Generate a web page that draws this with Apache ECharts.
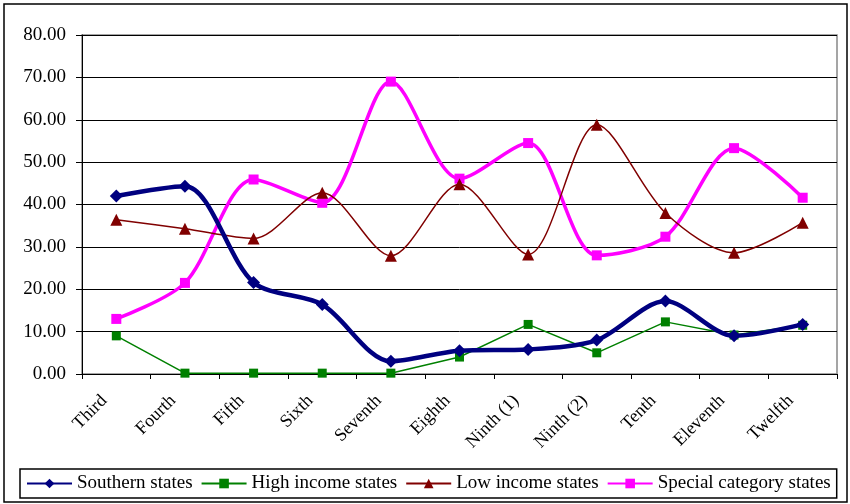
<!DOCTYPE html>
<html><head><meta charset="utf-8">
<script src="https://cdn.jsdelivr.net/npm/echarts@6/dist/echarts.min.js"></script>
<style>html,body{margin:0;padding:0;background:#fff}#c{width:850px;height:504px}</style>
</head><body><div id="c"></div>
<script>
const categories = ["Third","Fourth","Fifth","Sixth","Seventh","Eighth","Ninth (1)","Ninth (2)","Tenth","Eleventh","Twelfth"];
const southern = [42.0, 44.3, 21.6, 16.4, 3.0, 5.5, 5.8, 8.0, 17.2, 9.0, 11.7];
const highIncome = [9.0, 0.2, 0.2, 0.2, 0.2, 4.0, 11.7, 5.0, 12.3, 9.2, 11.5];
const lowIncome = [36.4, 34.3, 32.0, 42.8, 27.9, 44.8, 28.2, 58.8, 38.0, 28.6, 35.7];
const special = [13.0, 21.5, 45.9, 40.4, 69.0, 46.1, 54.5, 28.0, 32.4, 53.3, 41.6];
const yTicks = [0, 10, 20, 30, 40, 50, 60, 70, 80];

const font = "'Liberation Serif','DejaVu Serif',serif";
const chart = echarts.init(document.getElementById('c'));
chart.setOption({
  animation: false,
  backgroundColor: '#fff',
  graphic: [{type:'rect', shape:{x:4,y:4,width:843,height:498}, style:{fill:'none', stroke:'#000', lineWidth:1.5}, silent:true}],
  grid: {left: 82, right: 13, top: 35, bottom: 130, show: true, borderColor: '#888', borderWidth: 1.5},
  xAxis: {
    type: 'category', data: categories, boundaryGap: true,
    axisLine: {lineStyle: {color: '#000', width: 1}},
    axisTick: {show: true, interval: 0, length: 5, lineStyle: {color: '#000'}},
    axisLabel: {interval: 0, rotate: 45, color: '#000', fontFamily: font, fontSize: 18, margin: 12, padding: [0, 17, 0, 0]}
  },
  yAxis: {
    type: 'value', min: yTicks[0], max: yTicks[yTicks.length-1], interval: 10,
    axisLine: {show: true, lineStyle: {color: '#000', width: 1}},
    axisTick: {show: true, length: 6, lineStyle: {color: '#000'}},
    splitLine: {lineStyle: {color: '#000', width: 1}},
    axisLabel: {color: '#000', fontFamily: font, fontSize: 19, margin: 16, formatter: v => v.toFixed(2)}
  },
  legend: {
    left: 20, top: 469, padding: [5, 6], itemGap: 8, itemWidth: 45, itemHeight: 12,
    borderColor: '#000', borderWidth: 1.5,
    textStyle: {color: '#000', fontFamily: font, fontSize: 19},
    data: ['Southern states','High income states','Low income states','Special category states']
  },
  series: [
    {name: 'Southern states', type: 'line', data: southern, smooth: 0.3, symbol: 'diamond', symbolSize: 13,
     lineStyle: {color: '#000080', width: 4.5}, itemStyle: {color: '#000080'}, z: 5},
    {name: 'High income states', type: 'line', data: highIncome, smooth: false, symbol: 'rect', symbolSize: 9,
     lineStyle: {color: '#008000', width: 1.5}, itemStyle: {color: '#008000'}, z: 4},
    {name: 'Low income states', type: 'line', data: lowIncome, smooth: 0.3, symbol: 'triangle', symbolSize: 12,
     lineStyle: {color: '#800000', width: 1.5}, itemStyle: {color: '#800000'}, z: 3},
    {name: 'Special category states', type: 'line', data: special, smooth: 0.3, symbol: 'rect', symbolSize: 10,
     lineStyle: {color: '#FF00FF', width: 3.5}, itemStyle: {color: '#FF00FF'}, z: 2}
  ]
});
</script></body></html>
